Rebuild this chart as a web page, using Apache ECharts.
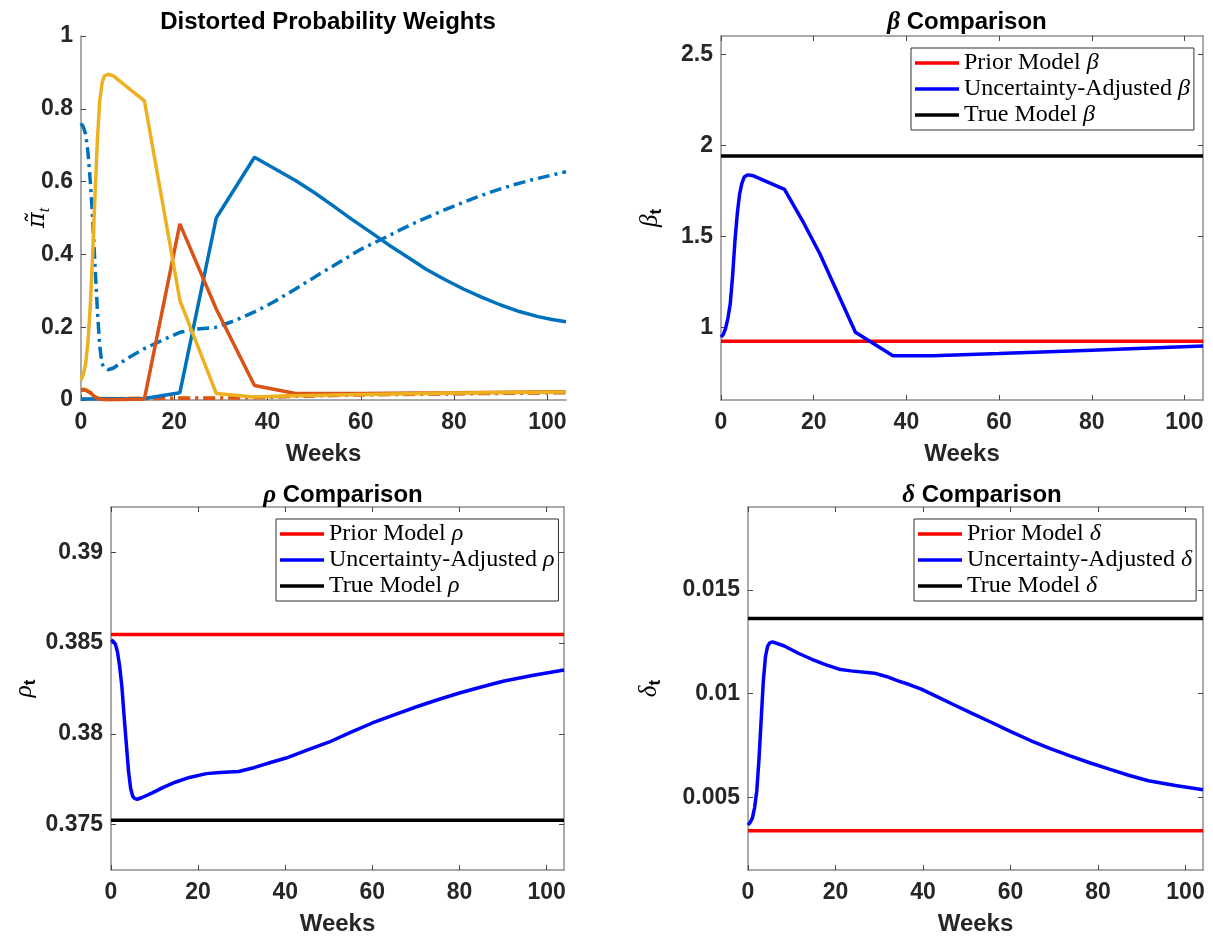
<!DOCTYPE html>
<html>
<head>
<meta charset="utf-8">
<script src="https://cdn.jsdelivr.net/npm/echarts@6/dist/echarts.min.js"></script>
<style>
html,body{margin:0;padding:0;background:#fff;}
#chart{width:1213px;height:941px;}
</style>
</head>
<body>
<div id="chart"></div>
<script>
// ---------- tick labels ----------
const weekTicks = [0, 20, 40, 60, 80, 100];
const piTicks = [0, 0.2, 0.4, 0.6, 0.8, 1];
const betaTicks = [1, 1.5, 2, 2.5];
const rhoTicks = [0.375, 0.38, 0.385, 0.39];
const deltaTicks = [0.005, 0.01, 0.015];

// ---------- panel 1: distorted probability weights ----------
const piBlueSolidWeeks = [0, 13.6, 21.2, 29, 37.2, 46, 50, 54, 58, 62, 66, 70, 74, 78, 82, 86, 90, 94, 98, 101, 104];
const piBlueSolid = [0.003, 0.004, 0.02, 0.5, 0.667, 0.603, 0.57, 0.534, 0.497, 0.462, 0.426, 0.393, 0.359, 0.331, 0.305, 0.282, 0.261, 0.243, 0.229, 0.221, 0.215];

const piOrangeSolidWeeks = [0, 1, 2, 3, 4, 6, 13.6, 21.2, 29, 37.2, 46, 60, 80, 104];
const piOrangeSolid = [0.028, 0.027, 0.02, 0.008, 0.002, 0.001, 0.003, 0.484, 0.25, 0.04, 0.018, 0.018, 0.02, 0.023];

const piYellowSolidWeeks = [0, 0.5, 1, 1.5, 2, 2.5, 3, 3.5, 4, 4.5, 5, 5.8, 7, 13.6, 21.2, 29, 37, 46, 60, 80, 104];
const piYellowSolid = [0.055, 0.07, 0.1, 0.16, 0.26, 0.4, 0.56, 0.71, 0.82, 0.87, 0.89, 0.895, 0.89, 0.822, 0.274, 0.018, 0.008, 0.012, 0.015, 0.019, 0.022];

const piBlueDashWeeks = [0, 0.5, 1, 1.5, 2, 2.5, 3, 3.5, 4, 4.5, 5, 5.8, 7, 10, 13.7, 21.2, 25, 29, 33, 37.2, 41, 46, 51, 56, 60, 65, 69, 73, 77, 81, 85, 89, 93, 97, 101, 104];
const piBlueDash = [0.76, 0.75, 0.73, 0.68, 0.6, 0.5, 0.37, 0.25, 0.15, 0.1, 0.088, 0.083, 0.088, 0.115, 0.142, 0.186, 0.195, 0.2, 0.218, 0.242, 0.267, 0.305, 0.345, 0.383, 0.414, 0.445, 0.471, 0.495, 0.517, 0.538, 0.558, 0.576, 0.592, 0.606, 0.618, 0.627];

const piOrangeDashWeeks = [0, 1, 2, 3, 4, 13.6, 21, 29, 37, 46, 60, 80, 104];
const piOrangeDash = [0.028, 0.027, 0.02, 0.008, 0.003, 0.004, 0.005, 0.005, 0.006, 0.01, 0.014, 0.017, 0.02];

const piYellowDashWeeks = [0, 1, 2, 3, 4, 13.6, 21, 29, 37, 46, 60, 80, 104];
const piYellowDash = [0.03, 0.029, 0.021, 0.009, 0.004, 0.005, 0.006, 0.006, 0.008, 0.012, 0.015, 0.018, 0.021];

// ---------- panel 2: beta ----------
const lineWeeks = [0, 104];
const priorBeta = 0.923;
const trueBeta = 1.94;
const betaWeeks = [0, 0.5, 1, 1.5, 2, 2.5, 3, 3.5, 4, 4.5, 5, 5.8, 7, 13.7, 17.9, 21.3, 29, 37.1, 45.7, 60, 80, 104];
const betaAdj = [0.945, 0.96, 0.995, 1.05, 1.13, 1.28, 1.47, 1.62, 1.73, 1.79, 1.825, 1.837, 1.832, 1.757, 1.57, 1.405, 0.972, 0.843, 0.843, 0.855, 0.874, 0.897];

// ---------- panel 3: rho ----------
const priorRho = 0.38548;
const trueRho = 0.37524;
const rhoWeeks = [0, 0.5, 1, 1.5, 2, 2.5, 3, 3.5, 4, 4.5, 5, 5.5, 6, 7, 9.6, 12, 14.9, 18, 21.9, 25, 29.3, 33, 37, 40.2, 45, 50, 55, 60, 65, 70, 75, 80, 85, 90, 97, 104];
const rhoAdj = [0.38517, 0.3851, 0.38495, 0.3845, 0.3837, 0.3826, 0.381, 0.3795, 0.378, 0.377, 0.37655, 0.37643, 0.3764, 0.37648, 0.37676, 0.37705, 0.37735, 0.3776, 0.37781, 0.37787, 0.37793, 0.37815, 0.37845, 0.37867, 0.3791, 0.37954, 0.38008, 0.3806, 0.38105, 0.38148, 0.38188, 0.38225, 0.38258, 0.3829, 0.38323, 0.38352];

// ---------- panel 4: delta ----------
const priorDelta = 0.003395;
const trueDelta = 0.01362;
const deltaWeeks = [0, 0.5, 1, 1.5, 2, 2.5, 3, 3.5, 4, 4.5, 5, 5.6, 8.3, 11.5, 14.6, 17.7, 20.8, 23.5, 28.9, 31.6, 34.3, 37, 39.6, 43.2, 46.8, 51.2, 55.7, 60.2, 64.7, 69.1, 73.6, 78.1, 82.6, 87, 91.5, 97.7, 104];
const deltaAdj = [0.00367, 0.0038, 0.004, 0.0045, 0.0053, 0.0068, 0.0087, 0.0106, 0.0118, 0.0123, 0.01245, 0.0125, 0.0123, 0.01195, 0.01166, 0.0114, 0.01118, 0.0111, 0.01099, 0.01083, 0.01062, 0.01043, 0.01022, 0.00986, 0.00949, 0.00905, 0.00861, 0.00816, 0.00773, 0.00735, 0.007, 0.00667, 0.00636, 0.00607, 0.0058, 0.00557, 0.00537];

// ---------- helpers ----------
const zip = (xs, ys) => xs.map((x, i) => [x, ys[i]]);
const flat = (xs, v) => xs.map(x => [x, v]);

const SANS = 'Liberation Sans';
const SERIF = 'Liberation Serif';
const AXIS_GRAY = '#8f8f8f';
const TEXT = '#262626';
const TICK_FS = 23;

const grids = [
  {left: 81, top: 36, width: 485, height: 364},
  {left: 721, top: 36, width: 482, height: 364},
  {left: 111, top: 507, width: 453, height: 363},
  {left: 748, top: 507, width: 455, height: 363}
];

function xMain(gi) {
  return {
    type: 'value', gridIndex: gi, min: 0, max: 104, position: 'bottom',
    name: 'Weeks', nameLocation: 'middle', nameGap: 42,
    nameTextStyle: {fontFamily: SANS, fontWeight: 'bold', fontSize: 24, color: TEXT},
    axisLine: {show: true, onZero: false, lineStyle: {color: AXIS_GRAY, width: 1.5}},
    axisTick: {show: true, inside: true, length: 5, customValues: weekTicks, lineStyle: {color: '#444'}},
    axisLabel: {customValues: weekTicks, margin: 11, fontFamily: SANS, fontWeight: 'bold', fontSize: TICK_FS, color: TEXT},
    splitLine: {show: false}
  };
}
function xMirror(gi) {
  return {
    type: 'value', gridIndex: gi, min: 0, max: 104, position: 'top',
    axisLine: {show: true, onZero: false, lineStyle: {color: AXIS_GRAY, width: 1.5}},
    axisTick: {show: true, inside: true, length: 5, customValues: weekTicks, lineStyle: {color: '#444'}},
    axisLabel: {show: false}, splitLine: {show: false}
  };
}
function yMain(gi, min, max, ticks, name, gap, noMove) {
  return {
    type: 'value', gridIndex: gi, min: min, max: max, position: 'left',
    name: name, nameLocation: 'middle', nameGap: gap, nameRotate: 90,
    nameMoveOverlap: !noMove,
    nameTextStyle: {
      color: '#000',
      rich: {
        g: {fontFamily: SERIF, fontStyle: 'italic', fontSize: 25, color: '#000', lineHeight: 30, verticalAlign: 'middle'},
        gp: {fontFamily: 'DejaVu Serif', fontStyle: 'italic', fontSize: 24, color: '#000', lineHeight: 30, verticalAlign: 'middle'},
        s: {fontFamily: SANS, fontWeight: 'bold', fontSize: 17, color: '#000', lineHeight: 30, verticalAlign: 'bottom'},
        si: {fontFamily: SERIF, fontStyle: 'italic', fontSize: 16, color: '#000', lineHeight: 30, verticalAlign: 'bottom'}
      }
    },
    axisLine: {show: true, onZero: false, lineStyle: {color: AXIS_GRAY, width: 1.5}},
    axisTick: {show: true, inside: true, length: 5, customValues: ticks, lineStyle: {color: '#444'}},
    axisLabel: {customValues: ticks, margin: 8, fontFamily: SANS, fontWeight: 'bold', fontSize: TICK_FS, color: TEXT},
    splitLine: {show: false}
  };
}
function yMirror(gi, min, max, ticks) {
  return {
    type: 'value', gridIndex: gi, min: min, max: max, position: 'right',
    axisLine: {show: true, onZero: false, lineStyle: {color: AXIS_GRAY, width: 1.5}},
    axisTick: {show: true, inside: true, length: 5, customValues: ticks, lineStyle: {color: '#444'}},
    axisLabel: {show: false}, splitLine: {show: false}
  };
}

function line(name, xi, yi, data, color, dash, width) {
  return {
    type: 'line', name: name, xAxisIndex: xi, yAxisIndex: yi, data: data,
    symbol: 'none', smooth: false, silent: true, clip: true,
    lineStyle: {color: color, width: width || 3.5, type: dash || 'solid'},
    itemStyle: {color: color}
  };
}

function legend(left, top, names) {
  return {
    left: left, top: top, orient: 'vertical', data: names,
    icon: 'rect', itemWidth: 44, itemHeight: 3.5, itemGap: 2,
    borderColor: '#333', borderWidth: 1, backgroundColor: '#fff',
    padding: [3, 4, 3, 4], selectedMode: false,
    formatter: n => '{n|' + n.slice(0, -1) + '}{g|' + n.slice(-1) + '}',
    textStyle: {
      fontFamily: SERIF, fontSize: 24, color: '#000',
      rich: {
        n: {fontFamily: SERIF, fontSize: 24, color: '#000'},
        g: {fontFamily: SERIF, fontStyle: 'italic', fontSize: 24, color: '#000'}
      }
    }
  };
}

const MB = '#0072BD', MO = '#D95319', MY = '#EDB120';
const dashDot = [12, 5, 3, 5];

const titleStyle = {
  fontFamily: SANS, fontWeight: 'bold', fontSize: 24, color: '#000',
  rich: {
    g: {fontFamily: SERIF, fontStyle: 'italic', fontSize: 25, color: '#000'},
    b: {fontFamily: SANS, fontWeight: 'bold', fontSize: 24, color: '#000'}
  }
};

const option = {
  animation: false,
  backgroundColor: '#fff',
  title: [
    {text: 'Distorted Probability Weights', left: 323, top: 5, textAlign: 'center', textStyle: titleStyle},
    {text: '{g|β} {b|Comparison}', left: 962, top: 5, textAlign: 'center', textStyle: titleStyle},
    {text: '{g|ρ} {b|Comparison}', left: 338, top: 478, textAlign: 'center', textStyle: titleStyle},
    {text: '{g|δ} {b|Comparison}', left: 977, top: 478, textAlign: 'center', textStyle: titleStyle}
  ],
  grid: grids,
  legend: [
    legend(911, 48, ['Prior Model β', 'Uncertainty-Adjusted β', 'True Model β']),
    legend(276, 519, ['Prior Model ρ', 'Uncertainty-Adjusted ρ', 'True Model ρ']),
    legend(914, 519, ['Prior Model δ', 'Uncertainty-Adjusted δ', 'True Model δ'])
  ],
  xAxis: [xMain(0), xMain(1), xMain(2), xMain(3), xMirror(1), xMirror(2), xMirror(3)],
  yAxis: [
    yMain(0, 0, 1, piTicks, '{gp|π̃}{si|t}', 28, true),
    yMain(1, 0.6, 2.6, betaTicks, '{g|β}{s|t}', 56),
    yMain(2, 0.3725, 0.3925, rhoTicks, '{g|ρ}{s|t}', 72),
    yMain(3, 0.0015, 0.019, deltaTicks, '{g|δ}{s|t}', 84),
    yMirror(1, 0.6, 2.6, betaTicks),
    yMirror(2, 0.3725, 0.3925, rhoTicks),
    yMirror(3, 0.0015, 0.019, deltaTicks)
  ],
  series: [
    line('piYellowDash', 0, 0, zip(piYellowDashWeeks, piYellowDash), MY, dashDot),
    line('piOrangeDash', 0, 0, zip(piOrangeDashWeeks, piOrangeDash), MO, dashDot),
    line('piBlueDash', 0, 0, zip(piBlueDashWeeks, piBlueDash), MB, dashDot),
    line('piBlueSolid', 0, 0, zip(piBlueSolidWeeks, piBlueSolid), MB),
    line('piOrangeSolid', 0, 0, zip(piOrangeSolidWeeks, piOrangeSolid), MO),
    line('piYellowSolid', 0, 0, zip(piYellowSolidWeeks, piYellowSolid), MY),

    line('Prior Model β', 1, 1, flat(lineWeeks, priorBeta), '#FF0000'),
    line('Uncertainty-Adjusted β', 1, 1, zip(betaWeeks, betaAdj), '#0000FF'),
    line('True Model β', 1, 1, flat(lineWeeks, trueBeta), '#000000'),

    line('Prior Model ρ', 2, 2, flat(lineWeeks, priorRho), '#FF0000'),
    line('Uncertainty-Adjusted ρ', 2, 2, zip(rhoWeeks, rhoAdj), '#0000FF'),
    line('True Model ρ', 2, 2, flat(lineWeeks, trueRho), '#000000'),

    line('Prior Model δ', 3, 3, flat(lineWeeks, priorDelta), '#FF0000'),
    line('Uncertainty-Adjusted δ', 3, 3, zip(deltaWeeks, deltaAdj), '#0000FF'),
    line('True Model δ', 3, 3, flat(lineWeeks, trueDelta), '#000000')
  ]
};

const chart = echarts.init(document.getElementById('chart'), null, {renderer: 'canvas'});
chart.setOption(option);
</script>
</body>
</html>
